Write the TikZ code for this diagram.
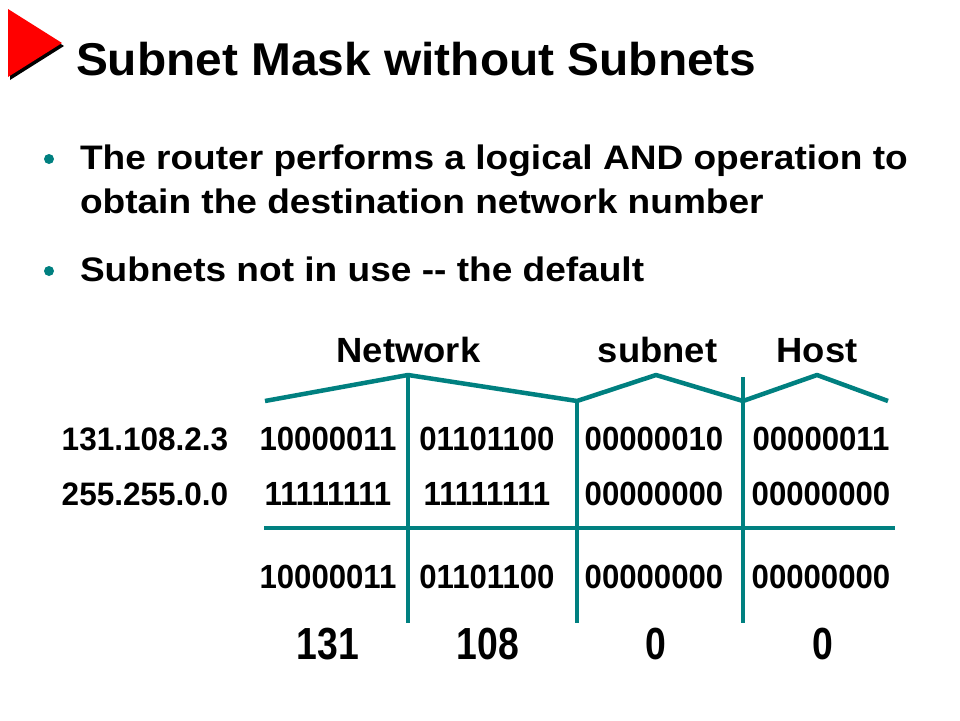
\documentclass[tikz,border=0pt]{standalone}
\usepackage{fontspec}
\setmainfont{Liberation Sans}
\definecolor{teal1}{HTML}{008080}
\definecolor{red1}{HTML}{FF0000}
\tikzset{
  txt/.style={inner sep=0pt, outer sep=0pt, font=\bfseries},
  tl/.style={line width=4.5pt, draw=teal1, line join=round},
}
\newcommand{\titlefont}{\fontsize{46}{55}\selectfont\bfseries}
\newcommand{\bulfont}{\fontsize{34}{41}\selectfont\bfseries}
\newcommand{\labfont}{\fontsize{35}{42}\selectfont\bfseries}
\newcommand{\numfont}{\fontsize{33.5}{40}\selectfont\bfseries}
\newcommand{\ipfont}{\fontsize{32.5}{39}\selectfont\bfseries}
\newcommand{\bigfont}{\fontsize{45}{54}\selectfont\bfseries}
\newcommand{\sx}[2]{\scalebox{#1}[1]{#2}}
\begin{document}
\begin{tikzpicture}[x=1pt,y=-1pt]
\useasboundingbox (0,0) rectangle (960,720);
\fill[white] (0,0) rectangle (960,720);
% logo triangle
\fill[black] (10,12) -- (64,46) -- (10,80) -- cycle;
\fill[red1] (8,9) -- (62,43) -- (8,77) -- cycle;
% title
\node[txt, anchor=base west] (title) at (76,75) {\sx{1.04}{\titlefont Subnet Mask without Subnets}};
% bullets
\fill[teal1] (49,159) circle (5pt);
\fill[teal1] (49,271) circle (5pt);
\node[txt, anchor=base west] (b1a) at (80,169) {\sx{1.09}{\bulfont The router performs a logical AND operation to}};
\node[txt, anchor=base west] (b1b) at (80,213) {\sx{1.09}{\bulfont obtain the destination network number}};
\node[txt, anchor=base west] (b2) at (80,281) {\sx{1.09}{\bulfont Subnets not in use -{}- the default}};
% headings
\node[txt, anchor=base] (net) at (408.5,362) {\sx{1.04}{\labfont Network}};
\node[txt, anchor=base] (sub) at (657.5,362) {\sx{1.04}{\labfont subnet}};
\node[txt, anchor=base] (host) at (817,362) {\sx{1.04}{\labfont Host}};
% bracket lines
\draw[tl] (265,401) -- (408,375) -- (577,401) -- (656,375) -- (743,401) -- (817,375) -- (888,401);
\draw[tl] (408,375) -- (408,623);
\draw[tl] (577,401) -- (577,623);
\draw[tl] (743,377) -- (743,623);
\draw[tl] (264,528) -- (895,528);
% rows
\node[txt, anchor=base] (ip) at (145,450) {\sx{0.97}{\ipfont 131.108.2.3}};
\node[txt, anchor=base] (ip1) at (328,450) {\sx{0.93}{\numfont 10000011}};
\node[txt, anchor=base] (ip2) at (487,450) {\sx{0.93}{\numfont 01101100}};
\node[txt, anchor=base] (ip3) at (654,450) {\sx{0.93}{\numfont 00000010}};
\node[txt, anchor=base] (ip4) at (821,450) {\sx{0.93}{\numfont 00000011}};
\node[txt, anchor=base] (mk) at (145,505) {\sx{0.97}{\ipfont 255.255.0.0}};
\node[txt, anchor=base] (mk1) at (328,505) {\sx{0.93}{\numfont 11111111}};
\node[txt, anchor=base] (mk2) at (487,505) {\sx{0.93}{\numfont 11111111}};
\node[txt, anchor=base] (mk3) at (654,505) {\sx{0.93}{\numfont 00000000}};
\node[txt, anchor=base] (mk4) at (821,505) {\sx{0.93}{\numfont 00000000}};
\node[txt, anchor=base] (r1) at (328,588) {\sx{0.93}{\numfont 10000011}};
\node[txt, anchor=base] (r2) at (487,588) {\sx{0.93}{\numfont 01101100}};
\node[txt, anchor=base] (r3) at (654,588) {\sx{0.93}{\numfont 00000000}};
\node[txt, anchor=base] (r4) at (821,588) {\sx{0.93}{\numfont 00000000}};
% big numbers
\node[txt, anchor=base] (d1) at (328,659) {\sx{0.83}{\bigfont 131}};
\node[txt, anchor=base] (d2) at (488,659) {\sx{0.83}{\bigfont 108}};
\node[txt, anchor=base] (d3) at (656,659) {\sx{0.83}{\bigfont 0}};
\node[txt, anchor=base] (d4) at (823,659) {\sx{0.83}{\bigfont 0}};
\end{tikzpicture}
\end{document}
